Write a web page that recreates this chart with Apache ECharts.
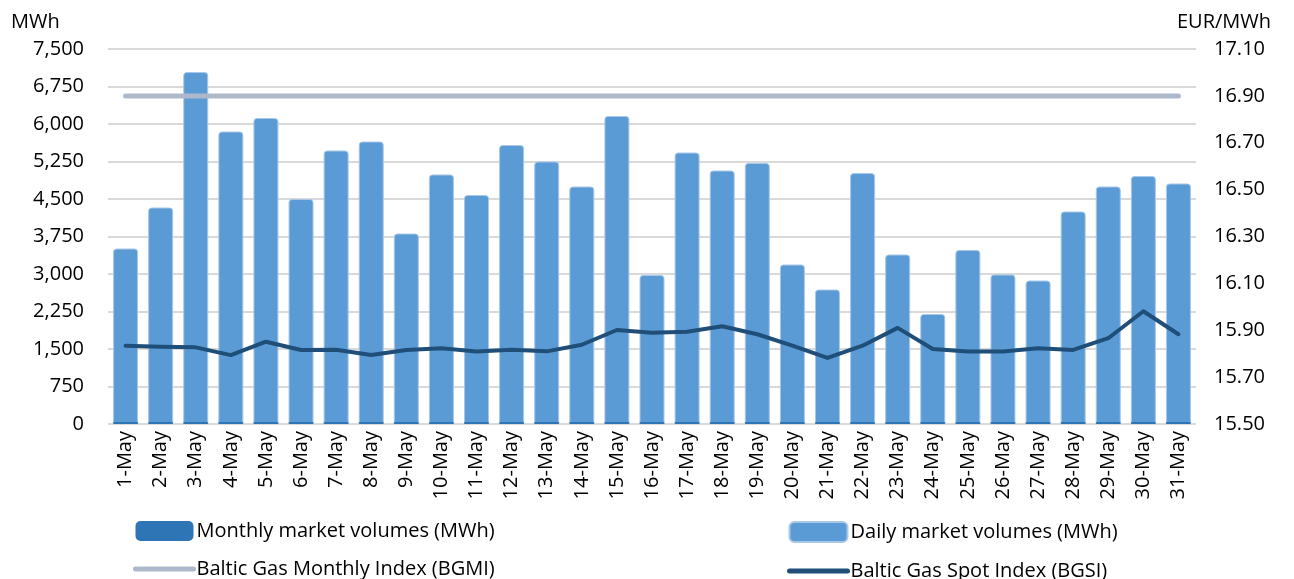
<!DOCTYPE html>
<html>
<head>
<meta charset="utf-8">
<script src="https://cdn.jsdelivr.net/npm/echarts@6/dist/echarts.min.js"></script>
<style>
html,body{margin:0;padding:0;background:#fff;}
#chart{width:1294px;height:579px;}
</style>
</head>
<body>
<div id="chart"></div>
<script>
var categories = ['1-May','2-May','3-May','4-May','5-May','6-May','7-May','8-May','9-May','10-May','11-May','12-May','13-May','14-May','15-May','16-May','17-May','18-May','19-May','20-May','21-May','22-May','23-May','24-May','25-May','26-May','27-May','28-May','29-May','30-May','31-May'];
var dailyVolumes = [3510,4330,7040,5850,6120,4500,5470,5650,3810,4990,4580,5580,5250,4750,6160,2980,5430,5070,5220,3190,2690,5020,3390,2200,3480,2990,2870,4250,4750,4960,4810];
var monthlyVolumes = [40,40,40,40,40,40,40,40,40,40,40,40,40,40,40,40,40,40,40,40,40,40,40,40,40,40,40,40,40,40,40];
var bgmi = [16.90,16.90,16.90,16.90,16.90,16.90,16.90,16.90,16.90,16.90,16.90,16.90,16.90,16.90,16.90,16.90,16.90,16.90,16.90,16.90,16.90,16.90,16.90,16.90,16.90,16.90,16.90,16.90,16.90,16.90,16.90];
var bgsi = [15.834,15.830,15.827,15.794,15.851,15.816,15.817,15.794,15.816,15.823,15.809,15.817,15.810,15.838,15.901,15.889,15.894,15.917,15.883,15.834,15.782,15.834,15.910,15.820,15.809,15.809,15.823,15.816,15.866,15.981,15.883];

var FONT = 'Open Sans';
var legendText = {fontSize: 20, fontFamily: FONT, color: '#000', padding: [0,0,0,-2]};
var chart = echarts.init(document.getElementById('chart'));
chart.setOption({
  animation: false,
  textStyle: {fontFamily: FONT, color: '#000'},
  grid: {left: 108, right: 98, top: 49, bottom: 155, containLabel: false},
  graphic: [
    {type: 'text', left: 11, top: 12, style: {text: 'MWh', font: '20px "' + FONT + '"', fill: '#000'}},
    {type: 'text', left: 1177, top: 12, style: {text: 'EUR/MWh', font: '20px "' + FONT + '"', fill: '#000'}}
  ],
  legend: [
    {
      left: 133, top: 521, height: 62, padding: 0, orient: 'vertical', itemWidth: 58, itemHeight: 20, itemGap: 18,
      textStyle: legendText,
      data: [
        {name: 'Monthly market volumes (MWh)', icon: 'roundRect'},
        {name: 'Baltic Gas Monthly Index (BGMI)', itemStyle: {opacity: 0}, lineStyle: {width: 5, cap: 'round', color: '#ADB9CA'}}
      ]
    },
    {
      left: 787, top: 521, height: 62, padding: 0, orient: 'vertical', itemWidth: 58, itemHeight: 20, itemGap: 18,
      textStyle: legendText,
      data: [
        {name: 'Daily market volumes (MWh)', icon: 'roundRect'},
        {name: 'Baltic Gas Spot Index (BGSI)', itemStyle: {opacity: 0}, lineStyle: {width: 5, cap: 'round', color: '#1F4E79'}}
      ]
    }
  ],
  xAxis: {
    type: 'category', data: categories, boundaryGap: true,
    axisLine: {show: false}, axisTick: {show: false},
    axisLabel: {rotate: 90, fontSize: 20, fontFamily: FONT, color: '#000', margin: 7}
  },
  yAxis: [
    {
      type: 'value', min: 0, max: 7500, interval: 750, position: 'left',
      axisLine: {show: false}, axisTick: {show: false},
      splitLine: {show: true, lineStyle: {color: '#D9D9D9', width: 2}},
      axisLabel: {fontSize: 20, fontFamily: FONT, color: '#000', margin: 24,
        formatter: function (v) { return v.toLocaleString('en-US'); }}
    },
    {
      type: 'value', min: 15.5, max: 17.1, interval: 0.2, position: 'right', alignTicks: false,
      axisLine: {show: false}, axisTick: {show: false}, splitLine: {show: false},
      axisLabel: {fontSize: 20, fontFamily: FONT, color: '#000', margin: 18,
        formatter: function (v) { return v.toFixed(2); }}
    }
  ],
  series: [
    {
      name: 'Daily market volumes (MWh)', type: 'bar', data: dailyVolumes, yAxisIndex: 0,
      barWidth: 25, barGap: '-100%', z: 2,
      itemStyle: {color: '#5B9BD5', borderColor: '#A9C8E8', borderWidth: 1, borderRadius: [3,3,0,0]}
    },
    {
      name: 'Monthly market volumes (MWh)', type: 'bar', data: monthlyVolumes, yAxisIndex: 0,
      barWidth: 25, barGap: '-100%', z: 3,
      itemStyle: {color: '#2E75B6', borderRadius: 1}
    },
    {
      name: 'Baltic Gas Monthly Index (BGMI)', type: 'line', data: bgmi, yAxisIndex: 1,
      symbol: 'none', z: 4, color: '#ADB9CA',
      lineStyle: {color: '#ADB9CA', width: 5, cap: 'round'}
    },
    {
      name: 'Baltic Gas Spot Index (BGSI)', type: 'line', data: bgsi, yAxisIndex: 1,
      symbol: 'none', z: 5, color: '#1F4E79',
      lineStyle: {color: '#1F4E79', width: 4, cap: 'round', join: 'round'}
    }
  ]
});
</script>
</body>
</html>
